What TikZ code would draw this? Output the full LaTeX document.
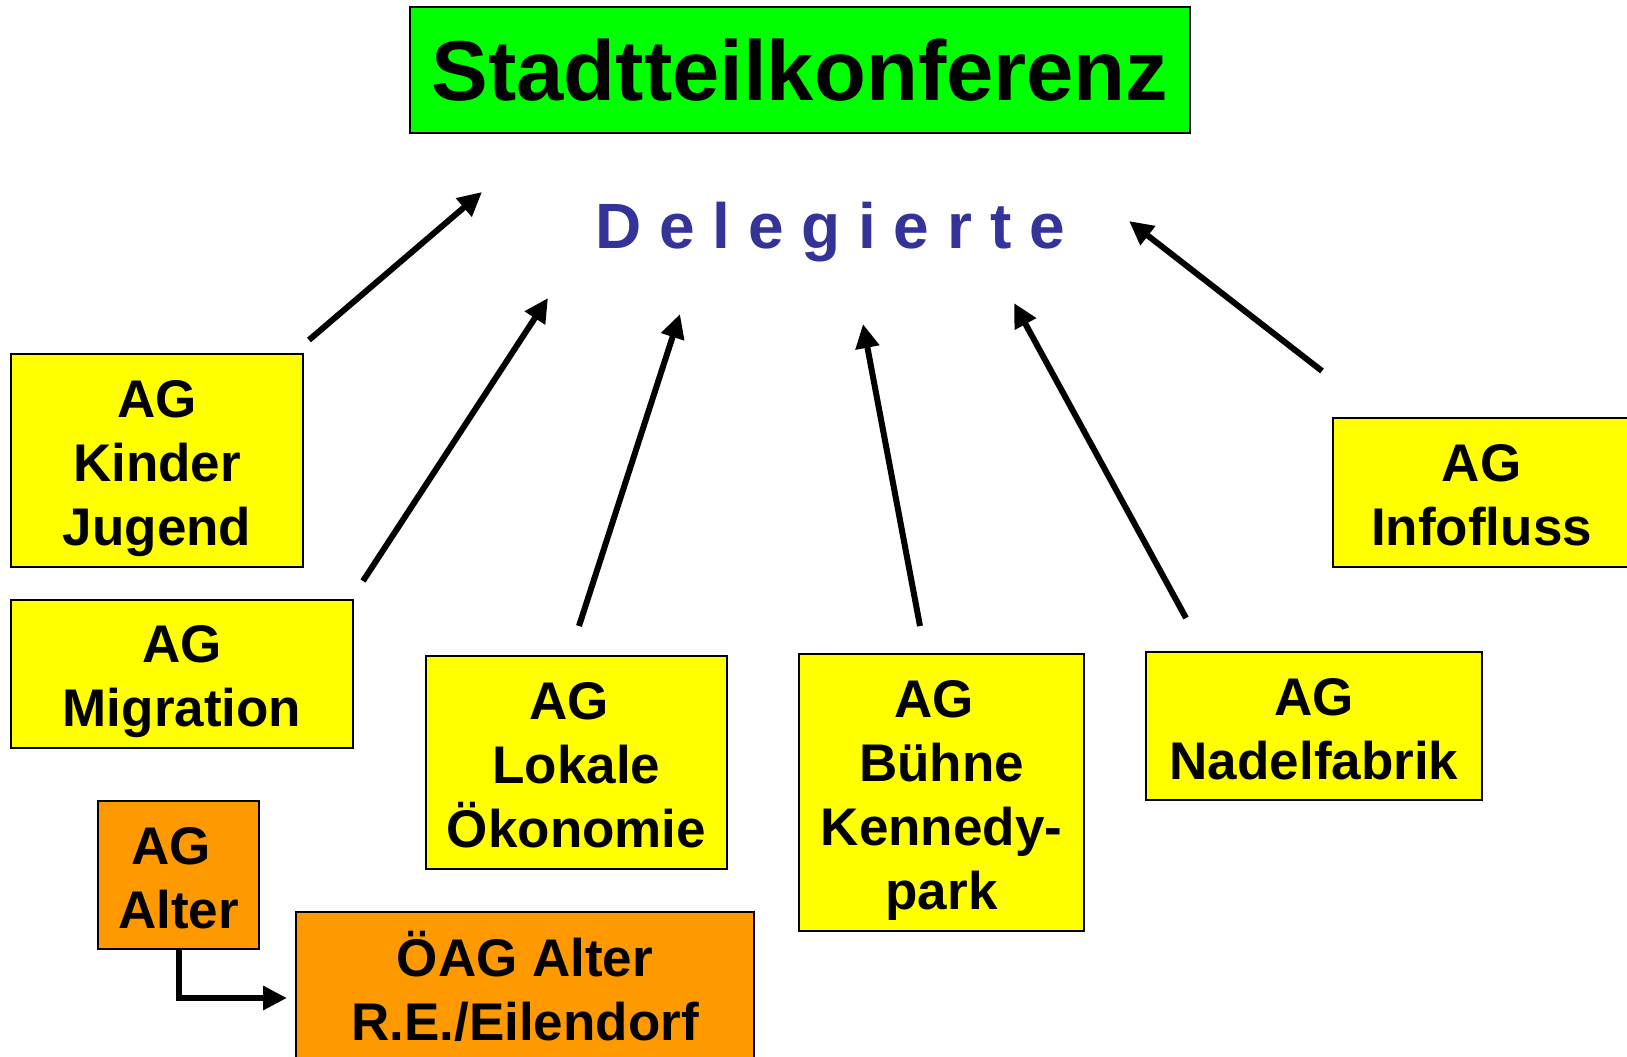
\documentclass[tikz,border=0pt]{standalone}
\usepackage{fontspec}
\setmainfont{Liberation Sans}
\usetikzlibrary{arrows.meta}
\definecolor{agyellow}{HTML}{FFFF00}
\definecolor{aggreen}{HTML}{00FF00}
\definecolor{agorange}{HTML}{FF9900}
\definecolor{delblue}{HTML}{333399}
\newcommand{\lnstrut}{\rule[-11pt]{0pt}{64pt}}
\begin{document}
\begin{tikzpicture}[x=1pt,y=-1pt,
  box/.style={draw=black, line width=2pt, inner sep=0pt, align=center,
    font=\fontsize{53}{64}\selectfont\bfseries},
  yellowbox/.style={box, fill=agyellow},
  orangebox/.style={box, fill=agorange},
  arr/.style={line width=6pt, -{Triangle[length=24pt,width=23pt]}}]
\useasboundingbox (0,0) rectangle (1627,1057);
% title
\node[box, fill=aggreen, minimum width=780pt, minimum height=126pt,
  font=\fontsize{85}{100}\selectfont\bfseries] (title) at (800,70) {Stadtteilkonferenz};
\node[anchor=base, text=delblue, inner sep=0pt,
  font=\fontsize{64}{70}\selectfont\bfseries] (deleg) at (830,248) {D e l e g i e r t e};
% boxes
\node[yellowbox, minimum width=292pt, minimum height=213pt] (kinder) at (157,460.5)
  {\lnstrut AG\\\lnstrut Kinder\\\lnstrut Jugend};
\node[yellowbox, minimum width=342pt, minimum height=148pt] (migration) at (182,674)
  {\lnstrut AG\\\lnstrut Migration};
\node[yellowbox, minimum width=301pt, minimum height=213pt] (lokale) at (576.5,762.5)
  {\lnstrut AG\hspace*{0.28em}\\\lnstrut Lokale\\\lnstrut Ökonomie};
\node[yellowbox, minimum width=285pt, minimum height=277pt] (buehne) at (941.5,792.5)
  {\lnstrut AG\hspace*{0.28em}\\\lnstrut Bühne\\\lnstrut Kennedy-\\\lnstrut park};
\node[yellowbox, minimum width=336pt, minimum height=148pt] (nadel) at (1314,726)
  {\lnstrut AG\\\lnstrut Nadelfabrik};
\node[yellowbox, minimum width=297pt, minimum height=149pt] (info) at (1481.5,492.5)
  {\lnstrut AG\\\lnstrut Infofluss};
\node[orangebox, minimum width=161pt, minimum height=148pt] (alter) at (178.5,875)
  {\lnstrut AG\hspace*{0.28em}\\\lnstrut Alter};
\node[orangebox, minimum width=458pt, minimum height=151pt] (oeag) at (525,987.5)
  {\lnstrut ÖAG Alter\\\lnstrut R.E./Eilendorf};
% arrow end points
\coordinate (s1) at (309,340);  \coordinate (e1) at (482,192);
\coordinate (s2) at (363,581);  \coordinate (e2) at (548,298);
\coordinate (s3) at (579,626);  \coordinate (e3) at (680,314);
\coordinate (s4) at (920,626);  \coordinate (e4) at (863,324);
\coordinate (s5) at (1186,618); \coordinate (e5) at (1014,303);
\coordinate (s6) at (1322,371); \coordinate (e6) at (1129,221);
\coordinate (oeagin) at (287,998);
\draw[arr] (s1) -- (e1);
\draw[arr] (s2) -- (e2);
\draw[arr] (s3) -- (e3);
\draw[arr] (s4) -- (e4);
\draw[arr] (s5) -- (e5);
\draw[arr] (s6) -- (e6);
\draw[arr] (alter.south) |- (oeagin);
\end{tikzpicture}
\end{document}
